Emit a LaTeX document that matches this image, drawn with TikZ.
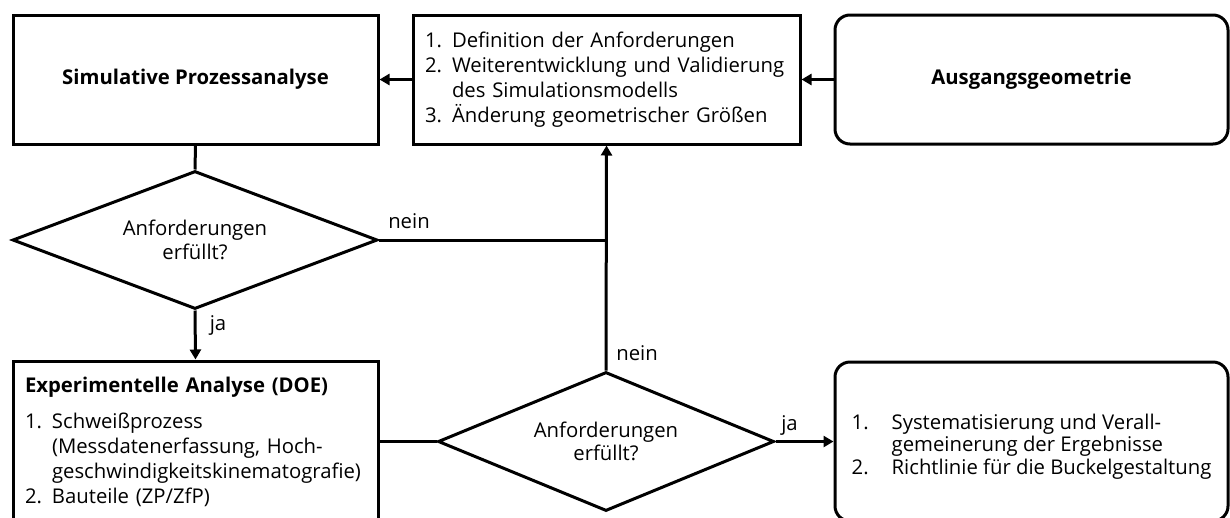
\documentclass[tikz,border=0pt]{standalone}
\usepackage{fontspec}
\setmainfont{Open Sans}
\usetikzlibrary{shapes.geometric,arrows.meta}
\tikzset{
  boxnode/.style={draw, line width=3pt, rectangle, inner xsep=12pt, inner ysep=0pt,
    align=left, font=\fontsize{20.3}{25}\selectfont},
  roundnode/.style={boxnode, rounded corners=15pt},
  decision/.style={draw, line width=3pt, diamond, inner sep=0pt, align=center,
    font=\fontsize{20.3}{23.5}\selectfont},
  conn/.style={line width=3pt},
  arr/.style={conn, -{Triangle[length=10pt,width=11pt]}},
  lbl/.style={font=\fontsize{20.3}{22}\selectfont, inner sep=0pt}
}
\newcommand{\itemnum}[2]{\makebox[#1][l]{#2}}
\begin{document}
\begin{tikzpicture}[x=1pt,y=-1pt]
\clip (0,0) rectangle (1230,517);
\fill[white] (0,0) rectangle (1230,517);
% top row
\node[boxnode, minimum width=365pt, minimum height=129pt] (A) at (195.5,79.5)
  {\textbf{Simulative Prozessanalyse}};
\node[boxnode, minimum width=387pt, minimum height=129pt, text width=363pt] (B) at (606.5,79.5)
  {\itemnum{27pt}{1.}Definition der Anforderungen\\
   \itemnum{27pt}{2.}Weiterentwicklung und Validierung\\
   \hspace*{27pt}des Simulationsmodells\\
   \itemnum{27pt}{3.}Änderung geometrischer Größen};
\node[roundnode, minimum width=393pt, minimum height=129pt] (C) at (1031.5,79.5)
  {\textbf{Ausgangsgeometrie}};
% decisions
\node[decision, aspect=2.65, minimum width=365pt, minimum height=138pt] (D1) at (195,240)
  {Anforderungen\\erfüllt?};
\node[decision, aspect=2.42, minimum width=336pt, minimum height=139pt] (D2) at (606,441.5)
  {Anforderungen\\erfüllt?};
% bottom row
\node[boxnode, minimum width=365pt, minimum height=161pt, text width=341pt] (E) at (195.5,441.5)
  {\textbf{Experimentelle Analyse (DOE)}\\[11pt]
   \itemnum{27pt}{1.}Schweißprozess\\
   \hspace*{27pt}(Messdatenerfassung, Hoch-\\
   \hspace*{27pt}geschwindigkeitskinematografie)\\
   \itemnum{27pt}{2.}Bauteile (ZP/ZfP)};
\node[roundnode, inner xsep=0pt, minimum width=393pt, minimum height=159pt,
  font=\fontsize{20.3}{22.5}\selectfont] (F) at (1031.5,441.5)
  {\rule{0pt}{25pt}\itemnum{40pt}{1.}Systematisierung und Verall-\\
   \hspace*{40pt}gemeinerung der Ergebnisse\\
   \itemnum{40pt}{2.}Richtlinie für die Buckelgestaltung};
% connectors
\coordinate (J) at (D2.north |- D1.east);
\draw[arr] (B.west) -- (A.east);
\draw[arr] (C.west) -- (B.east);
\draw[conn] (A.south) -- (D1.north);
\draw[arr] (D1.south) -- (E.north);
\draw[conn] (D1.east) -- (J);
\draw[arr] (D2.north) -- (B.south);
\draw[conn] (E.east) -- (D2.west);
\draw[arr] (D2.east) -- (F.west);
% labels
\path (D1.east) ++(30,-19) node[lbl] (n1) {nein};
\path (D1.south) ++(23,15) node[lbl] (j1) {ja};
\path (D2.north) ++(31,-17) node[lbl] (n2) {nein};
\path (D2.east) ++(14,-16) node[lbl] (j2) {ja};
\end{tikzpicture}
\end{document}
